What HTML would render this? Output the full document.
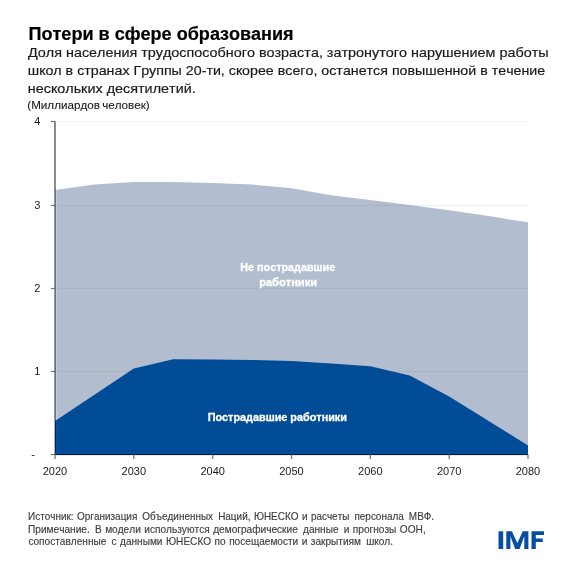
<!DOCTYPE html>
<html><head><meta charset="utf-8"><style>
html,body{margin:0;padding:0;background:#fff;width:571px;height:571px;overflow:hidden}
svg{display:block;will-change:transform}
text{font-family:"Liberation Sans",sans-serif;font-kerning:none}
</style></head><body>
<svg width="571" height="571" viewBox="0 0 571 571">
<rect width="571" height="571" fill="#fff"/>
<g font-size="17.5" font-weight="bold" fill="#000" stroke="#000" stroke-width="0.2" lengthAdjust="spacingAndGlyphs"><text x="28.49" y="39.9" textLength="265.17" lengthAdjust="spacingAndGlyphs">Потери в сфере образования</text></g>
<g font-size="13.3" fill="#1a1a1a" stroke="#1a1a1a" stroke-width="0.18" lengthAdjust="spacingAndGlyphs">
<text x="28.09" y="57.0" textLength="520.5" lengthAdjust="spacingAndGlyphs">Доля населения трудоспособного возраста, затронутого нарушением работы</text>
<text x="27.81" y="74.8" textLength="517.42" lengthAdjust="spacingAndGlyphs">школ в странах Группы 20-ти, скорее всего, останется повышенной в течение</text>
<text x="27.8" y="92.7" textLength="167.91" lengthAdjust="spacingAndGlyphs">нескольких десятилетий.</text>
</g>
<g font-size="11.4" fill="#1a1a1a" stroke="#1a1a1a" stroke-width="0.1" lengthAdjust="spacingAndGlyphs"><text x="27.28" y="109.4" textLength="122.45" lengthAdjust="spacingAndGlyphs">(Миллиардов человек)</text></g>
<polygon points="55,454.5 55.00,189.90 94.42,184.60 133.83,182.00 173.25,182.00 212.67,183.00 252.08,184.50 291.50,188.30 330.92,195.20 370.33,200.00 409.75,204.90 449.17,210.30 488.58,216.10 528.00,222.30 528,454.5" fill="#b2bdd0"/>
<g fill="rgba(120,110,80,0.12)"><rect x="56" y="371" width="472" height="1"/><rect x="56" y="288" width="472" height="1"/><rect x="56" y="205" width="472" height="1"/><rect x="56" y="121" width="472" height="1"/></g>
<polygon points="55,454.5 55.00,421.00 133.83,368.60 173.25,359.20 212.67,359.50 252.08,360.00 291.50,361.00 330.92,363.50 370.33,366.30 409.75,375.40 449.17,396.40 528.00,445.40 528,454.5" fill="#004c97"/>
<defs><clipPath id="cl"><polygon points="53,454.5 53,189.9 55.00,189.90 94.42,184.60 133.83,182.00 173.25,182.00 212.67,183.00 252.08,184.50 291.50,188.30 330.92,195.20 370.33,200.00 409.75,204.90 449.17,210.30 488.58,216.10 528.00,222.30 528,454.5"/></clipPath>
<clipPath id="cd"><polygon points="53,454.5 53,421.0 55.00,421.00 133.83,368.60 173.25,359.20 212.67,359.50 252.08,360.00 291.50,361.00 330.92,363.50 370.33,366.30 409.75,375.40 449.17,396.40 528.00,445.40 528,454.5"/></clipPath></defs>
<rect x="54" y="121.3" width="2" height="333.2" fill="#8c8c8c"/>
<g clip-path="url(#cl)"><rect x="54" y="121" width="1" height="334" fill="#9a9a9a"/><rect x="55" y="121" width="1" height="334" fill="#66707f"/><rect x="56" y="121" width="1" height="334" fill="#c3cde0"/></g>
<g clip-path="url(#cd)"><rect x="54" y="121" width="1" height="334" fill="#b8b0a0"/><rect x="55" y="121" width="1" height="334" fill="#00205f"/><rect x="56" y="121" width="1" height="334" fill="#0055aa"/></g>
<rect x="55" y="453" width="473" height="1" fill="#0050a5"/>
<rect x="54" y="454" width="474" height="1" fill="#001a40"/>
<rect x="54" y="455" width="474" height="1" fill="#efe8e0"/>
<g stroke="#707070" stroke-width="1.2"><line x1="51" y1="454.5" x2="55" y2="454.5"/><line x1="51" y1="371.5" x2="55" y2="371.5"/><line x1="51" y1="288.5" x2="55" y2="288.5"/><line x1="51" y1="205.5" x2="55" y2="205.5"/><line x1="51" y1="121.5" x2="55" y2="121.5"/><line x1="55.00" y1="454.5" x2="55.00" y2="459"/><line x1="133.83" y1="454.5" x2="133.83" y2="459"/><line x1="212.67" y1="454.5" x2="212.67" y2="459"/><line x1="291.50" y1="454.5" x2="291.50" y2="459"/><line x1="370.33" y1="454.5" x2="370.33" y2="459"/><line x1="449.17" y1="454.5" x2="449.17" y2="459"/><line x1="528.00" y1="454.5" x2="528.00" y2="459"/></g>
<g font-size="11" fill="#1a1a1a"><text x="40.3" y="375.00" text-anchor="end">1</text><text x="40.3" y="292.00" text-anchor="end">2</text><text x="40.3" y="209.00" text-anchor="end">3</text><text x="40.3" y="125.00" text-anchor="end">4</text><text x="55.00" y="474.7" text-anchor="middle">2020</text><text x="133.83" y="474.7" text-anchor="middle">2030</text><text x="212.67" y="474.7" text-anchor="middle">2040</text><text x="291.50" y="474.7" text-anchor="middle">2050</text><text x="370.33" y="474.7" text-anchor="middle">2060</text><text x="449.17" y="474.7" text-anchor="middle">2070</text><text x="528.00" y="474.7" text-anchor="middle">2080</text>
<text x="33" y="458" text-anchor="middle">-</text></g>
<g font-size="10.5" font-weight="bold" fill="#fff" stroke="#fff" stroke-width="0.3" lengthAdjust="spacingAndGlyphs"><text x="240.28" y="270.9" textLength="94.99" lengthAdjust="spacingAndGlyphs">Не пострадавшие</text><text x="259.17" y="285.7" textLength="57.9" lengthAdjust="spacingAndGlyphs">работники</text><text x="207.67" y="421" textLength="139.28" lengthAdjust="spacingAndGlyphs">Пострадавшие работники</text></g>
<g font-size="10.5" fill="#404040" stroke="#404040" stroke-width="0.15" style="word-spacing:0.7px" lengthAdjust="spacingAndGlyphs">
<text x="28.07" y="519.5" textLength="406.05" lengthAdjust="spacingAndGlyphs">Источник: Организация  Объединенных  Наций, ЮНЕСКО и расчеты  персонала  МВФ.</text>
<text x="28.07" y="532.8" textLength="397.65" lengthAdjust="spacingAndGlyphs">Примечание.  В модели используются демографические  данные  и прогнозы ООН,</text>
<text x="28.47" y="545.4" textLength="364.47" lengthAdjust="spacingAndGlyphs">сопоставленные  с данными ЮНЕСКО по посещаемости и закрытиям  школ.</text>
</g>
<g fill="#064ea0"><rect x="498.5" y="531.3" width="4.7" height="17.7"/>
<polygon points="506.3,549 506.3,531.3 511.9,531.3 517.35,542.9 522.8,531.3 528.4,531.3 528.4,549 524.3,549 524.3,536.2 519.5,549 515.2,549 510.4,536.2 510.4,549"/>
<polygon points="531.5,549 531.5,531.3 544,531.3 544,535 535.8,535 535.8,538.5 542.8,538.5 542.8,542 535.8,542 535.8,549"/></g>
</svg>
</body></html>
